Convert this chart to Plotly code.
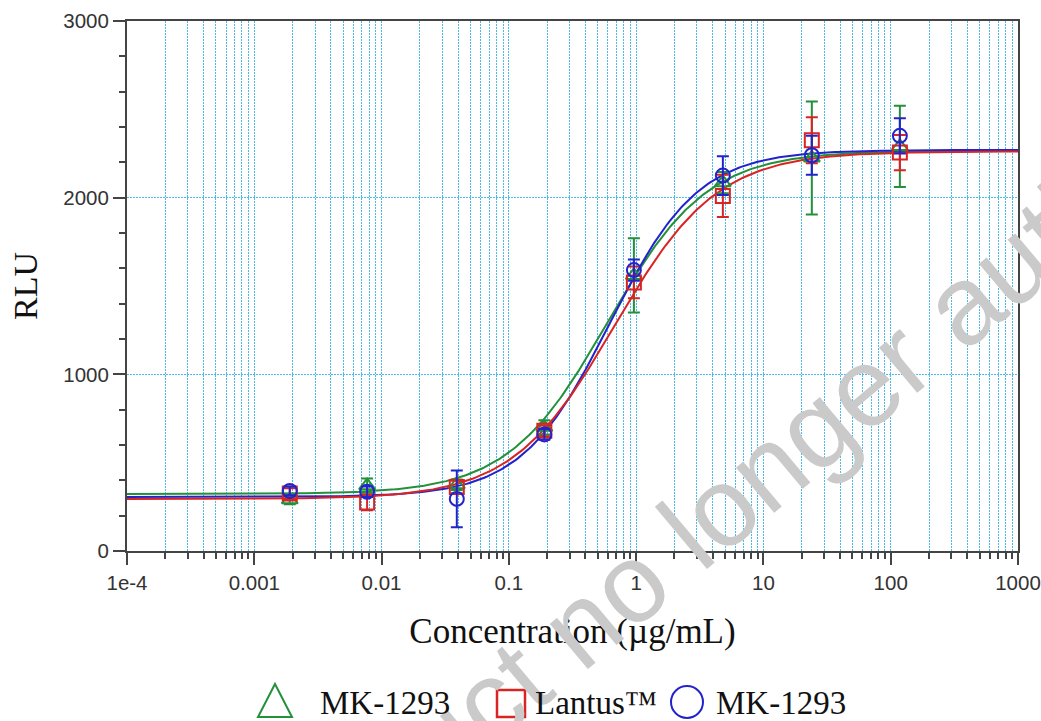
import numpy as np
import plotly.graph_objects as go

# ---------------- data ----------------
conc = [0.0019, 0.0077, 0.039, 0.19, 0.96, 4.8, 24, 118]  # µg/mL

mk_a_y   = [290, 370, 375, 700, 1560, 2085, 2225, 2290]
mk_a_err = [25, 40, 30, 40, 210, 60, 320, 230]

lantus_y   = [325, 275, 362, 680, 1520, 2010, 2325, 2255]
lantus_err = [30, 45, 35, 30, 90, 120, 130, 100]

mk_b_y   = [340, 335, 295, 660, 1590, 2125, 2240, 2350]
mk_b_err = [25, 30, 160, 30, 60, 110, 110, 100]

# 4-parameter logistic fit parameters
# [bottom, top, EC50, hill]
mk_a_fit   = [322, 2265, 0.595, 1.11]
lantus_fit = [294, 2262, 0.68, 1.08]
mk_b_fit   = [306, 2270, 0.62, 1.25]

legend_labels = ["MK-1293", "Lantus\u2122", "MK-1293"]
x_tickvals = [1e-4, 1e-3, 1e-2, 1e-1, 1, 10, 100, 1000]
x_ticktext = ["1e-4", "0.001", "0.01", "0.1", "1", "10", "100", "1000"]
y_tickvals = [0, 1000, 2000, 3000]

# ---------------- styling ----------------
GREEN = "#23903a"
RED = "#d92424"
BLUE = "#2323cc"
GRID = "#4dbbe6"
AXIS = "#444444"

W, H = 1041, 721
L, R, T, B = 127, 23, 21, 170


def px(xp):
    return (xp - L) / (W - L - R)


def py(yp):
    return (H - B - yp) / (H - B - T)


def four_pl(x, p):
    bottom, top, ec50, hill = p
    return bottom + (top - bottom) / (1.0 + (ec50 / x) ** hill)


xc = np.logspace(-4, 3, 400)

fig = go.Figure()

for fit, col in [(mk_a_fit, GREEN), (mk_b_fit, BLUE), (lantus_fit, RED)]:
    fig.add_trace(go.Scatter(x=xc, y=four_pl(xc, fit), mode="lines",
                             line=dict(color=col, width=2), showlegend=False,
                             hoverinfo="skip"))

series = [
    (legend_labels[0], mk_a_y, mk_a_err, GREEN, "triangle-up-open"),
    (legend_labels[1], lantus_y, lantus_err, RED, "square-open"),
    (legend_labels[2], mk_b_y, mk_b_err, BLUE, "circle-open"),
]
for name, yv, ev, col, sym in series:
    fig.add_trace(go.Scatter(
        x=conc, y=yv, mode="markers", name=name, showlegend=False,
        marker=dict(symbol=sym, size=14, color=col, line=dict(color=col, width=2)),
        error_y=dict(type="data", array=ev, visible=True, color=col,
                     thickness=2, width=6),
    ))

minor_x = [m * 10.0 ** e for e in range(-4, 3) for m in range(2, 10)]

fig.update_xaxes(
    type="log", range=[-4, 3],
    tickmode="array", tickvals=x_tickvals, ticktext=x_ticktext,
    ticks="outside", ticklen=12, tickwidth=2, tickcolor=AXIS,
    tickfont=dict(family="Liberation Sans", size=20.5, color="#333"),
    showgrid=True, gridcolor=GRID, gridwidth=1, griddash="2px,1px",
    minor=dict(tickmode="array", tickvals=minor_x, ticks="outside", ticklen=6,
               tickwidth=2, tickcolor=AXIS, showgrid=True, gridcolor=GRID,
               gridwidth=1, griddash="2px,1px"),
    showline=True, linecolor=AXIS, linewidth=2, mirror=True, zeroline=False,
    title=dict(text="Concentration (\u00b5g/mL)", standoff=26,
               font=dict(family="Liberation Serif", size=35, color="#111")),
)

fig.update_yaxes(
    range=[0, 3000], tickmode="array", tickvals=y_tickvals,
    ticks="outside", ticklen=12, tickwidth=2, tickcolor=AXIS,
    tickfont=dict(family="Liberation Sans", size=20.5, color="#333"),
    showgrid=True, gridcolor=GRID, gridwidth=1, griddash="2px,1px",
    minor=dict(dtick=200, ticks="outside", ticklen=6, tickwidth=2,
               tickcolor=AXIS, showgrid=False),
    showline=True, linecolor=AXIS, linewidth=2, mirror=True, zeroline=False,
    title=dict(text="RLU", standoff=15,
               font=dict(family="Liberation Serif", size=34, color="#111")),
)

# watermark
annotations = [dict(
    text="Medicinal product no longer authorised", x=px(600), y=py(608),
    xref="paper", yref="paper", showarrow=False, textangle=-40,
    xanchor="center", yanchor="middle",
    font=dict(family="Liberation Sans", size=112, color="#cacaca"),
)]

# manual legend (large symbols as in the reference)
shapes = [
    dict(type="path", xref="paper", yref="paper",
         path=f"M {px(275)},{py(684)} L {px(292)},{py(717)} L {px(258)},{py(717)} Z",
         line=dict(color=GREEN, width=2)),
    dict(type="rect", xref="paper", yref="paper",
         x0=px(497), x1=px(525), y0=py(690), y1=py(717),
         line=dict(color=RED, width=2.5)),
    dict(type="circle", xref="paper", yref="paper",
         x0=px(671), x1=px(703), y0=py(686), y1=py(718),
         line=dict(color=BLUE, width=2)),
]
for lbl, xpos in zip(legend_labels, [318, 533, 714]):
    annotations.append(dict(
        text=lbl, x=px(xpos), y=py(703), xref="paper", yref="paper",
        showarrow=False, xanchor="left", yanchor="middle",
        font=dict(family="Liberation Serif", size=33, color="#111"),
    ))

fig.update_layout(
    width=W, height=H,
    margin=dict(l=L, r=R, t=T, b=B, autoexpand=False),
    paper_bgcolor="white", plot_bgcolor="white",
    showlegend=False,
    annotations=annotations, shapes=shapes,
)

fig.write_html("out.html")
